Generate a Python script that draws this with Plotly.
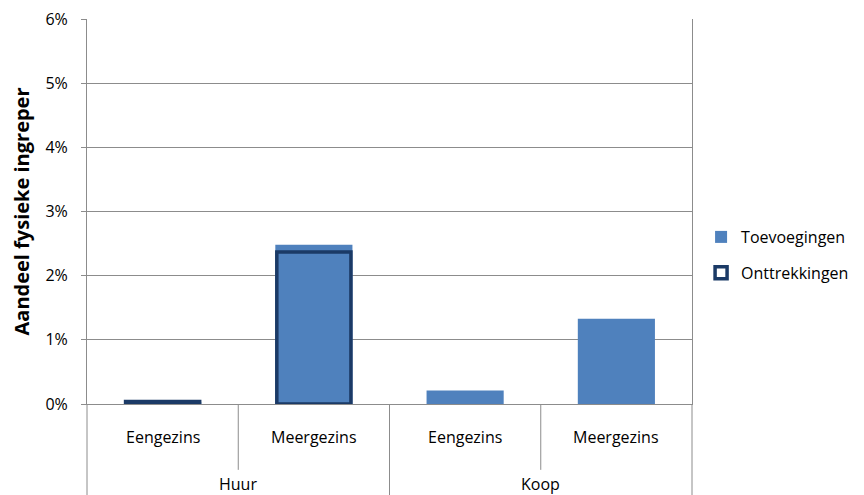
import plotly.graph_objs as go

# data
groups = ["Huur", "Huur", "Koop", "Koop"]
types = ["Eengezins", "Meergezins", "Eengezins", "Meergezins"]
toevoegingen = [0.0003, 0.0248, 0.0021, 0.0133]
onttrekkingen = [0.0004, 0.0237, None, None]
y_ticks = [0, 0.01, 0.02, 0.03, 0.04, 0.05, 0.06]

FONT = "Open Sans, sans-serif"
GRID = "#8c8c8c"

fig = go.Figure()

fig.add_trace(
    go.Bar(
        x = [groups, types],
        y = toevoegingen,
        name = "Toevoegingen",
        legendgroup = "a",
        width = 0.51,
        marker = {"color": "#4f81bd", "line": {"width": 0}}
    )
)

fig.add_trace(
    go.Bar(
        x = [groups, types],
        y = onttrekkingen,
        name = "Onttrekkingen",
        legendgroup = "b",
        width = 0.49,
        marker = {"color": "rgba(0,0,0,0)", "line": {"color": "#1b3a66", "width": 3.5}}
    )
)

# page body has an 8px margin, so the figure is a bit smaller
fig.update_layout(
    width = 856,
    height = 487,
    barmode = "overlay",
    plot_bgcolor = "white",
    paper_bgcolor = "white",
    font = {"family": FONT, "size": 15, "color": "black"},
    margin = {"l": 79, "r": 172, "t": 11, "b": 91, "autoexpand": False},
    showlegend = True,
    legend = {
        "x": 1.015, "y": 0.387, "xanchor": "left", "yanchor": "middle",
        "font": {"size": 16}, "tracegroupgap": 12, "itemwidth": 30
    }
)

fig.update_yaxes(
    range = [0, 0.06],
    tickvals = y_ticks,
    tickformat = ".0%",
    tickfont = {"size": 16},
    ticklabeloverflow = "allow",
    showgrid = True,
    gridcolor = GRID,
    gridwidth = 1,
    showline = True,
    linecolor = GRID,
    mirror = True,
    ticks = "outside",
    ticklen = 5,
    tickcolor = GRID,
    ticklabelstandoff = 10,
    zeroline = False,
    title = {"text": "<b>Aandeel fysieke ingreper</b>", "font": {"size": 20}, "standoff": 16}
)

fig.update_xaxes(
    showline = True,
    linecolor = GRID,
    showdividers = False,
    showticklabels = False,
    ticks = ""
)

# category labels below the axis
for i, t in enumerate(types):
    fig.add_annotation(
        text = t, xref = "paper", yref = "paper",
        x = (i + 0.5) / 4, y = -0.086, showarrow = False,
        xanchor = "center", yanchor = "middle",
        font = {"size": 16}
    )
for j, g in enumerate(["Huur", "Koop"]):
    fig.add_annotation(
        text = g, xref = "paper", yref = "paper",
        x = (j + 0.5) / 2, y = -0.208, showarrow = False,
        xanchor = "center", yanchor = "middle",
        font = {"size": 16}
    )

# divider lines
for xc in [0.25, 0.75]:
    fig.add_shape(
        type = "line", xref = "paper", yref = "paper",
        x0 = xc, x1 = xc, y0 = 0, y1 = -0.171,
        line = {"color": GRID, "width": 1}
    )
for xc in [0, 0.5, 1]:
    fig.add_shape(
        type = "line", xref = "paper", yref = "paper",
        x0 = xc, x1 = xc, y0 = 0, y1 = -0.24,
        line = {"color": GRID, "width": 1}
    )

fig.write_html("out.html")
